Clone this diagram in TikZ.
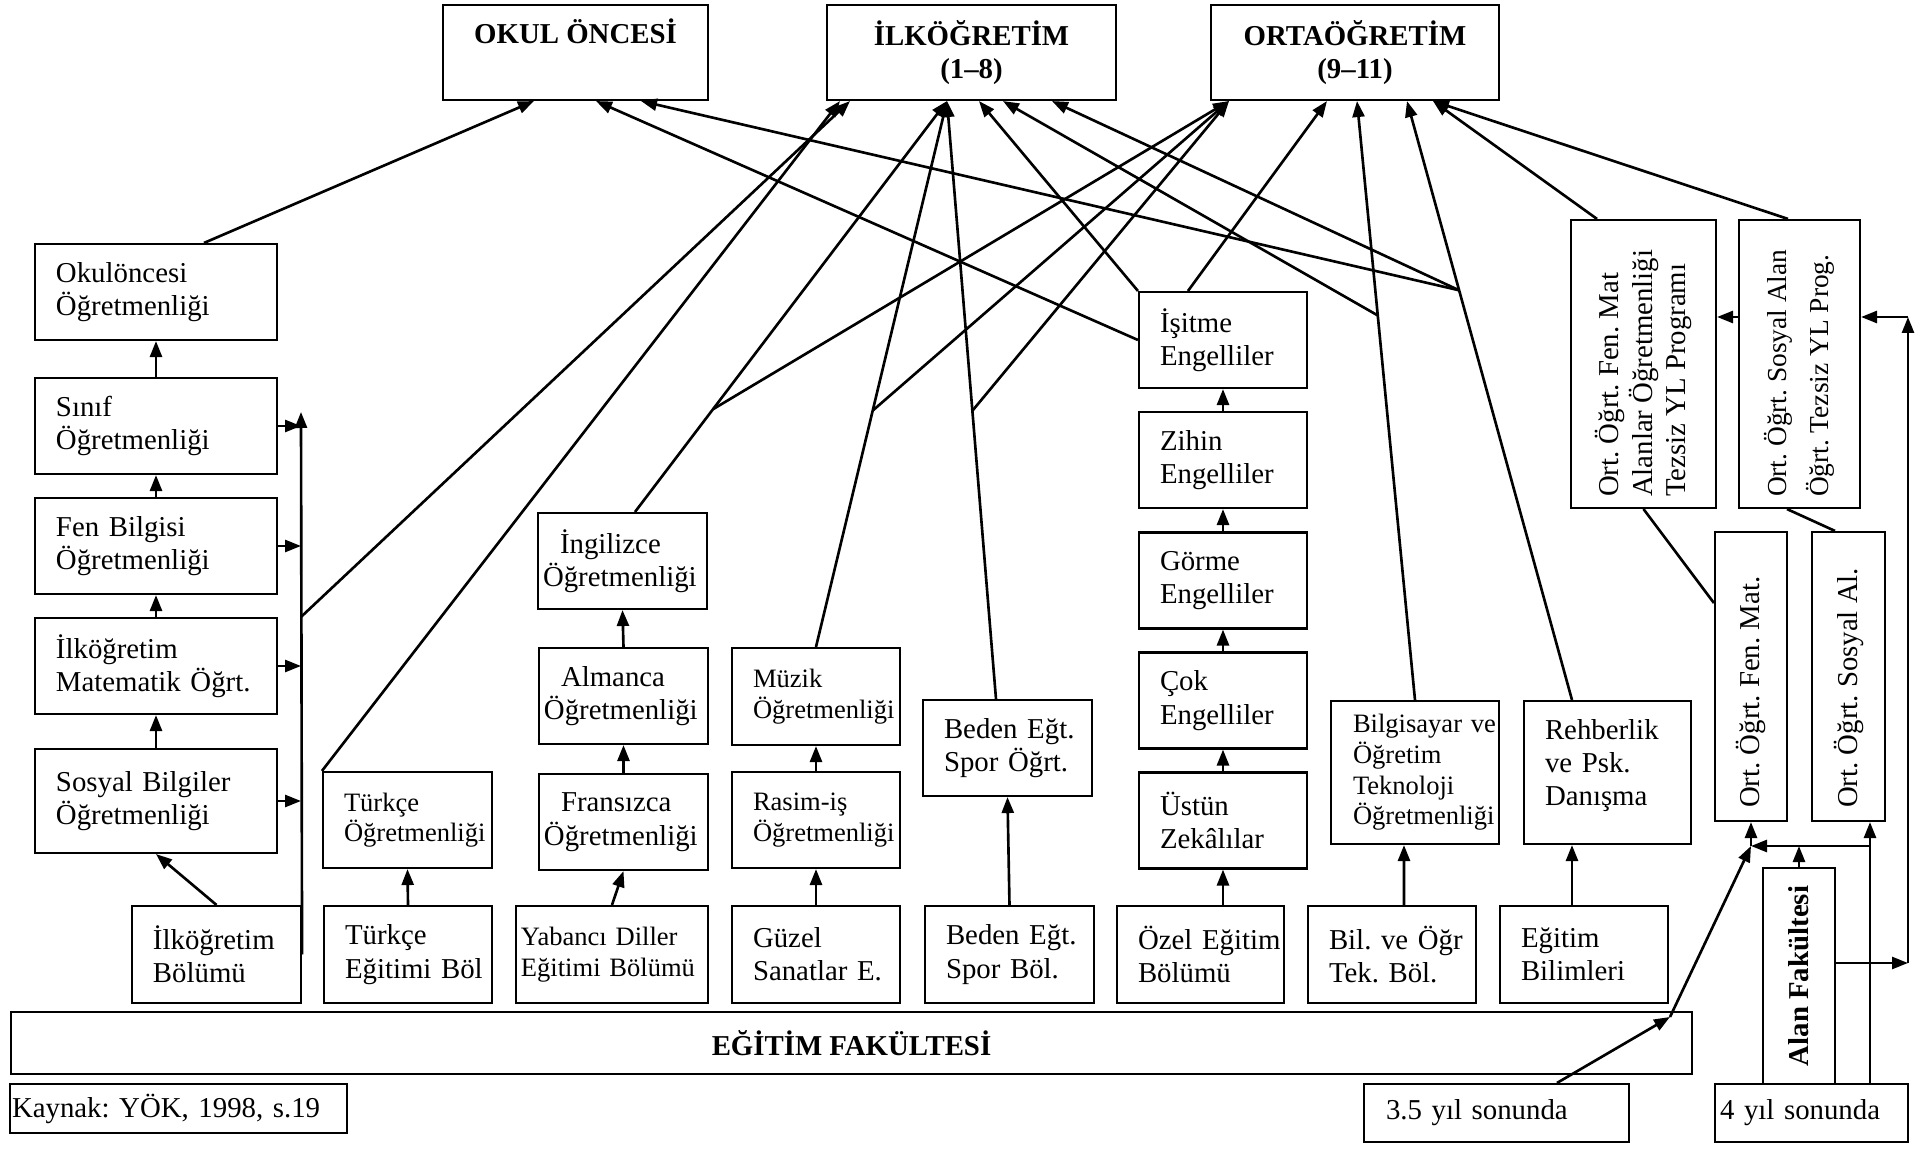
\documentclass[tikz,border=0pt]{standalone}
\usepackage{fontspec}
\setmainfont{Liberation Serif}
\usepackage{graphicx}
\usetikzlibrary{arrows.meta, calc}
\frenchspacing

\newcommand{\nyazi}{\fontsize{8.2}{9.5}\selectfont}
\newcommand{\kyazi}{\fontsize{7.55}{8.7}\selectfont}

\tikzset{
  kutu/.style={draw, line width=0.6pt, rectangle, inner xsep=0.02cm, inner ysep=0pt,
    minimum width=#1, text width=#1-0.04cm, minimum height=0.96cm, align=left,
    font=\nyazi, execute at begin node={\leftskip=0.19cm}},
  kutu/.default=1.68cm,
  girinti/.style={execute at begin node={\leftskip=#1}},
  ustkutu/.style={draw, line width=0.6pt, minimum width=2.88cm, minimum height=0.95cm,
    inner sep=0pt, align=center, font=\nyazi\bfseries},
  dikkutu/.style={draw, line width=0.6pt, inner sep=0pt},
  ok/.style={-{Triangle[length=0.16cm,width=0.12cm]}, line width=0.75pt},
  duz/.style={line width=0.75pt}
}

\begin{document}
\begin{tikzpicture}[x=1cm, y=-1cm]
  \useasboundingbox (0,0) rectangle (19.21,11.49);

  \node[ustkutu, minimum width=2.65cm] (okul) at (5.755,0.525) {OKUL ÖNCESİ\\\strut};
  \node[ustkutu, minimum width=2.89cm] (ilk) at (9.715,0.525) {İLKÖĞRETİM\\(1–8)};
  \node[ustkutu] (orta) at (13.55,0.525) {ORTAÖĞRETİM\\(9–11)};

  \node[kutu=2.42cm] (okulon) at (1.56,2.92) {Okulöncesi\\Öğretmenliği};
  \node[kutu=2.42cm] (sinif) at (1.56,4.26) {Sınıf\\Öğretmenliği};
  \node[kutu=2.42cm] (fen) at (1.56,5.46) {Fen Bilgisi\\Öğretmenliği};
  \node[kutu=2.42cm] (ilkmat) at (1.56,6.66) {İlköğretim\\Matematik Öğrt.};
  \node[kutu=2.42cm, minimum height=1.04cm] (sosyal) at (1.56,8.01) {Sosyal Bilgiler\\Öğretmenliği};

  \node[kutu=1.69cm, minimum height=0.97cm] (ilkbol) at (2.165,9.545) {İlköğretim\\Bölümü};
  \node[kutu, minimum height=0.97cm] (turkbol) at (4.08,9.545) {Türkçe\\Eğitimi Böl};
  \node[kutu=1.92cm, minimum height=0.97cm, font=\kyazi, girinti=0.03cm] (yabbol) at (6.12,9.545) {Yabancı Diller\\Eğitimi Bölümü};
  \node[kutu, minimum height=0.97cm] (guzelbol) at (8.16,9.545) {Güzel\\Sanatlar E.};
  \node[kutu=1.69cm, minimum height=0.97cm] (bedenbol) at (10.095,9.545) {Beden Eğt.\\Spor Böl.};
  \node[kutu=1.67cm, minimum height=0.97cm] (ozelbol) at (12.005,9.545) {Özel Eğitim\\Bölümü};
  \node[kutu, minimum height=0.97cm] (bilbol) at (13.92,9.545) {Bil. ve Öğr\\Tek. Böl.};
  \node[kutu, minimum height=0.97cm] (egitbil) at (15.84,9.545) {Eğitim\\Bilimleri};

  \node[kutu=1.69cm, font=\kyazi] (turkogr) at (4.075,8.20) {Türkçe\\Öğretmenliği};
  \node[kutu=1.69cm, girinti=0.03cm] (fransiz) at (6.235,8.22) {\hspace*{0.17cm}Fransızca\\Öğretmenliği};
  \node[kutu=1.69cm, girinti=0.03cm] (almanca) at (6.235,6.96) {\hspace*{0.17cm}Almanca\\Öğretmenliği};
  \node[kutu=1.69cm, girinti=0.03cm] (ingilizce) at (6.225,5.61) {\hspace*{0.17cm}İngilizce\\Öğretmenliği};
  \node[kutu, font=\kyazi] (rasim) at (8.16,8.20) {Rasim-iş\\Öğretmenliği};
  \node[kutu, font=\kyazi, minimum height=0.97cm] (muzik) at (8.16,6.965) {Müzik\\Öğretmenliği};
  \node[kutu=1.69cm] (bedenogr) at (10.075,7.48) {Beden Eğt.\\Spor Öğrt.};

  \node[kutu] (isitme) at (12.23,3.40) {İşitme\\Engelliler};
  \node[kutu] (zihin) at (12.23,4.60) {Zihin\\Engelliler};
  \node[kutu] (gorme) at (12.23,5.805) {Görme\\Engelliler};
  \node[kutu] (cok) at (12.23,7.005) {Çok\\Engelliler};
  \node[kutu] (ustun) at (12.23,8.205) {Üstün\\Zekâlılar};

  \node[kutu, font=\kyazi, minimum height=1.43cm, girinti=0.20cm] (bilgisayar) at (14.15,7.725) {Bilgisayar ve\\Öğretim\\Teknoloji\\Öğretmenliği};
  \node[kutu=1.67cm, minimum height=1.43cm] (rehberlik) at (16.075,7.725) {Rehberlik\\ve Psk.\\Danışma\vspace{0.14cm}};

  \node[dikkutu, minimum width=1.45cm, minimum height=2.88cm] (ylfen) at (16.435,3.64)
    {\rotatebox{90}{\parbox{2.66cm}{\nyazi\raggedright Ort. Öğrt. Fen. Mat\\Alanlar Öğretmenliği\\Tezsiz YL Programı}}};
  \node[dikkutu, minimum width=1.21cm, minimum height=2.88cm] (ylsos) at (17.995,3.64)
    {\rotatebox{90}{\parbox{2.66cm}{\fontsize{7.8}{11.9}\selectfont\raggedright Ort. Öğrt. Sosyal Alan\\Öğrt. Tezsiz YL Prog.}}};
  \node[dikkutu, minimum width=0.72cm, minimum height=2.89cm] (ortfen) at (17.51,6.765)
    {\rotatebox{90}{\parbox{2.63cm}{\nyazi Ort. Öğrt. Fen. Mat.}}};
  \node[dikkutu, minimum width=0.73cm, minimum height=2.89cm] (ortsos) at (18.485,6.765)
    {\rotatebox{90}{\parbox{2.63cm}{\nyazi Ort. Öğrt. Sosyal Al.}}};
  \node[dikkutu, minimum width=0.72cm, minimum height=2.16cm] (alan) at (17.99,9.76)
    {\rotatebox{90}{\nyazi\bfseries Alan Fakültesi}};

  \node[dikkutu, minimum width=16.81cm, minimum height=0.62cm, font=\nyazi\bfseries] (egfak) at (8.515,10.43) {EĞİTİM FAKÜLTESİ};
  \node[kutu=3.37cm, minimum height=0.49cm, girinti=0pt] (kaynak) at (1.785,11.085) {Kaynak: YÖK, 1998, s.19};
  \node[kutu=2.65cm, minimum height=0.58cm, girinti=0.20cm] (ucbes) at (14.965,11.13) {3.5 yıl sonunda};
  \node[kutu=1.93cm, minimum height=0.58cm, girinti=0.03cm] (dort) at (18.115,11.13) {4 yıl sonunda};

  \draw[ok] (ilkbol.north) -- (sosyal.south);
  \draw[ok] (sosyal.north) -- (ilkmat.south);
  \draw[ok] (ilkmat.north) -- (fen.south);
  \draw[ok] (fen.north) -- (sinif.south);
  \draw[ok] (sinif.north) -- (okulon.south);
  \draw[ok] ([xshift=0.48cm]okulon.north) -- ([xshift=-0.415cm]okul.south);
  \coordinate (hat) at (3.01,4.12);
  \draw[ok] (ilkbol.east) -- (hat);
  \foreach \k in {sinif,fen,ilkmat,sosyal}
    \draw[ok] (\k.east) -- (\k.east -| hat);
  \draw[ok] (ilkmat.north -| hat) -- ([xshift=-1.215cm]ilk.south);

  \draw[ok] (turkbol.north) -- (turkogr.south);
  \draw[ok] (turkogr.north west) -- ([xshift=-1.315cm]ilk.south);

  \coordinate (ilkorta) at ([xshift=-0.245cm]ilk.south);
  \coordinate (ortasol) at ([xshift=-1.26cm]orta.south);
  \draw[ok] (yabbol.north) -- (fransiz.south);
  \draw[ok] (fransiz.north) -- (almanca.south);
  \draw[ok] (almanca.north) -- (ingilizce.south);
  \coordinate (ingust) at ([xshift=0.125cm]ingilizce.north);
  \draw[ok] (ingust) -- (ilkorta);
  \draw[ok] ($(ingust)!0.25!(ilkorta)$) -- (ortasol);

  \draw[ok] (guzelbol.north) -- (rasim.south);
  \draw[ok] (rasim.north) -- (muzik.south);
  \draw[ok] (muzik.north) -- (ilkorta);
  \draw[ok] ($(muzik.north)!0.433!(ilkorta)$) -- (ortasol);

  \draw[ok] (bedenbol.north) -- (bedenogr.south);
  \coordinate (bedust) at ([xshift=-0.115cm]bedenogr.north);
  \draw[ok] (bedust) -- (ilkorta);
  \draw[ok] ($(bedust)!0.482!(ilkorta)$) -- (ortasol);

  \draw[ok] (ozelbol.north -| ustun.south) -- (ustun.south);
  \draw[ok] (ustun.north) -- (cok.south);
  \draw[ok] (cok.north) -- (gorme.south);
  \draw[ok] (gorme.north) -- (zihin.south);
  \draw[ok] (zihin.north) -- (isitme.south);
  \draw[ok] (isitme.west) -- ([xshift=0.205cm]okul.south);
  \draw[ok] (isitme.north west) -- ([xshift=0.075cm]ilk.south);
  \draw[ok] ([xshift=-0.35cm]isitme.north) -- ([xshift=-0.28cm]orta.south);

  \draw[ok] ([xshift=0.12cm]bilbol.north) -- ([xshift=-0.11cm]bilgisayar.south);
  \coordinate (bilhedef) at ([xshift=0.02cm]orta.south);
  \draw[ok] (bilgisayar.north) -- (bilhedef);
  \draw[ok] ($(bilgisayar.north)!0.642!(bilhedef)$) -- ([xshift=0.315cm]ilk.south);

  \draw[ok] ([xshift=-0.12cm]egitbil.north) -- ([xshift=-0.355cm]rehberlik.south);
  \coordinate (rehust) at ([xshift=-0.355cm]rehberlik.north);
  \coordinate (rehhedef) at ([xshift=0.52cm]orta.south);
  \draw[ok] (rehust) -- (rehhedef);
  \coordinate (rehdal) at ($(rehust)!0.684!(rehhedef)$);
  \draw[ok] (rehdal) -- ([xshift=0.655cm]okul.south);
  \draw[ok] (rehdal) -- ([xshift=0.805cm]ilk.south);

  \draw[ok] ([xshift=-0.465cm]ylfen.north) -- ([xshift=0.78cm]orta.south);
  \draw[ok] ([xshift=-0.115cm]ylsos.north) -- ([xshift=0.78cm]orta.south);
  \draw[ok] ([yshift=0.47cm]ylsos.west) -- ([yshift=0.47cm]ylfen.east);
  \draw[duz] (ylfen.south) -- ([yshift=0.735cm]ortfen.west);
  \draw[duz] ([xshift=-0.125cm]ylsos.south) -- ([xshift=-0.135cm]ortsos.north);

  \coordinate (sagalt) at (19.08,9.63);
  \coordinate (sagust) at (19.08,3.17);
  \draw[ok] (alan.east |- sagalt) -- (sagalt);
  \draw[ok] (sagalt) -- (sagust);
  \draw[ok] (sagust) -- (sagust -| ylsos.east);

  \coordinate (dortust) at ([xshift=0.585cm]dort.north);
  \coordinate (yatay) at (18.70,8.46);
  \coordinate (kavsak) at (17.51,8.46);
  \coordinate (efkose) at (16.70,10.17);
  \draw[ok] (dortust) -- (dortust |- ortsos.south);
  \draw[ok] (yatay) -- (kavsak);
  \draw[ok] (alan.north) -- (alan.north |- yatay);
  \draw[ok] ([xshift=0.605cm]ucbes.north) -- (efkose);
  \draw[ok] (efkose) -- (kavsak);
  \draw[ok] (kavsak) -- (kavsak |- ortfen.south);
\end{tikzpicture}
\end{document}
